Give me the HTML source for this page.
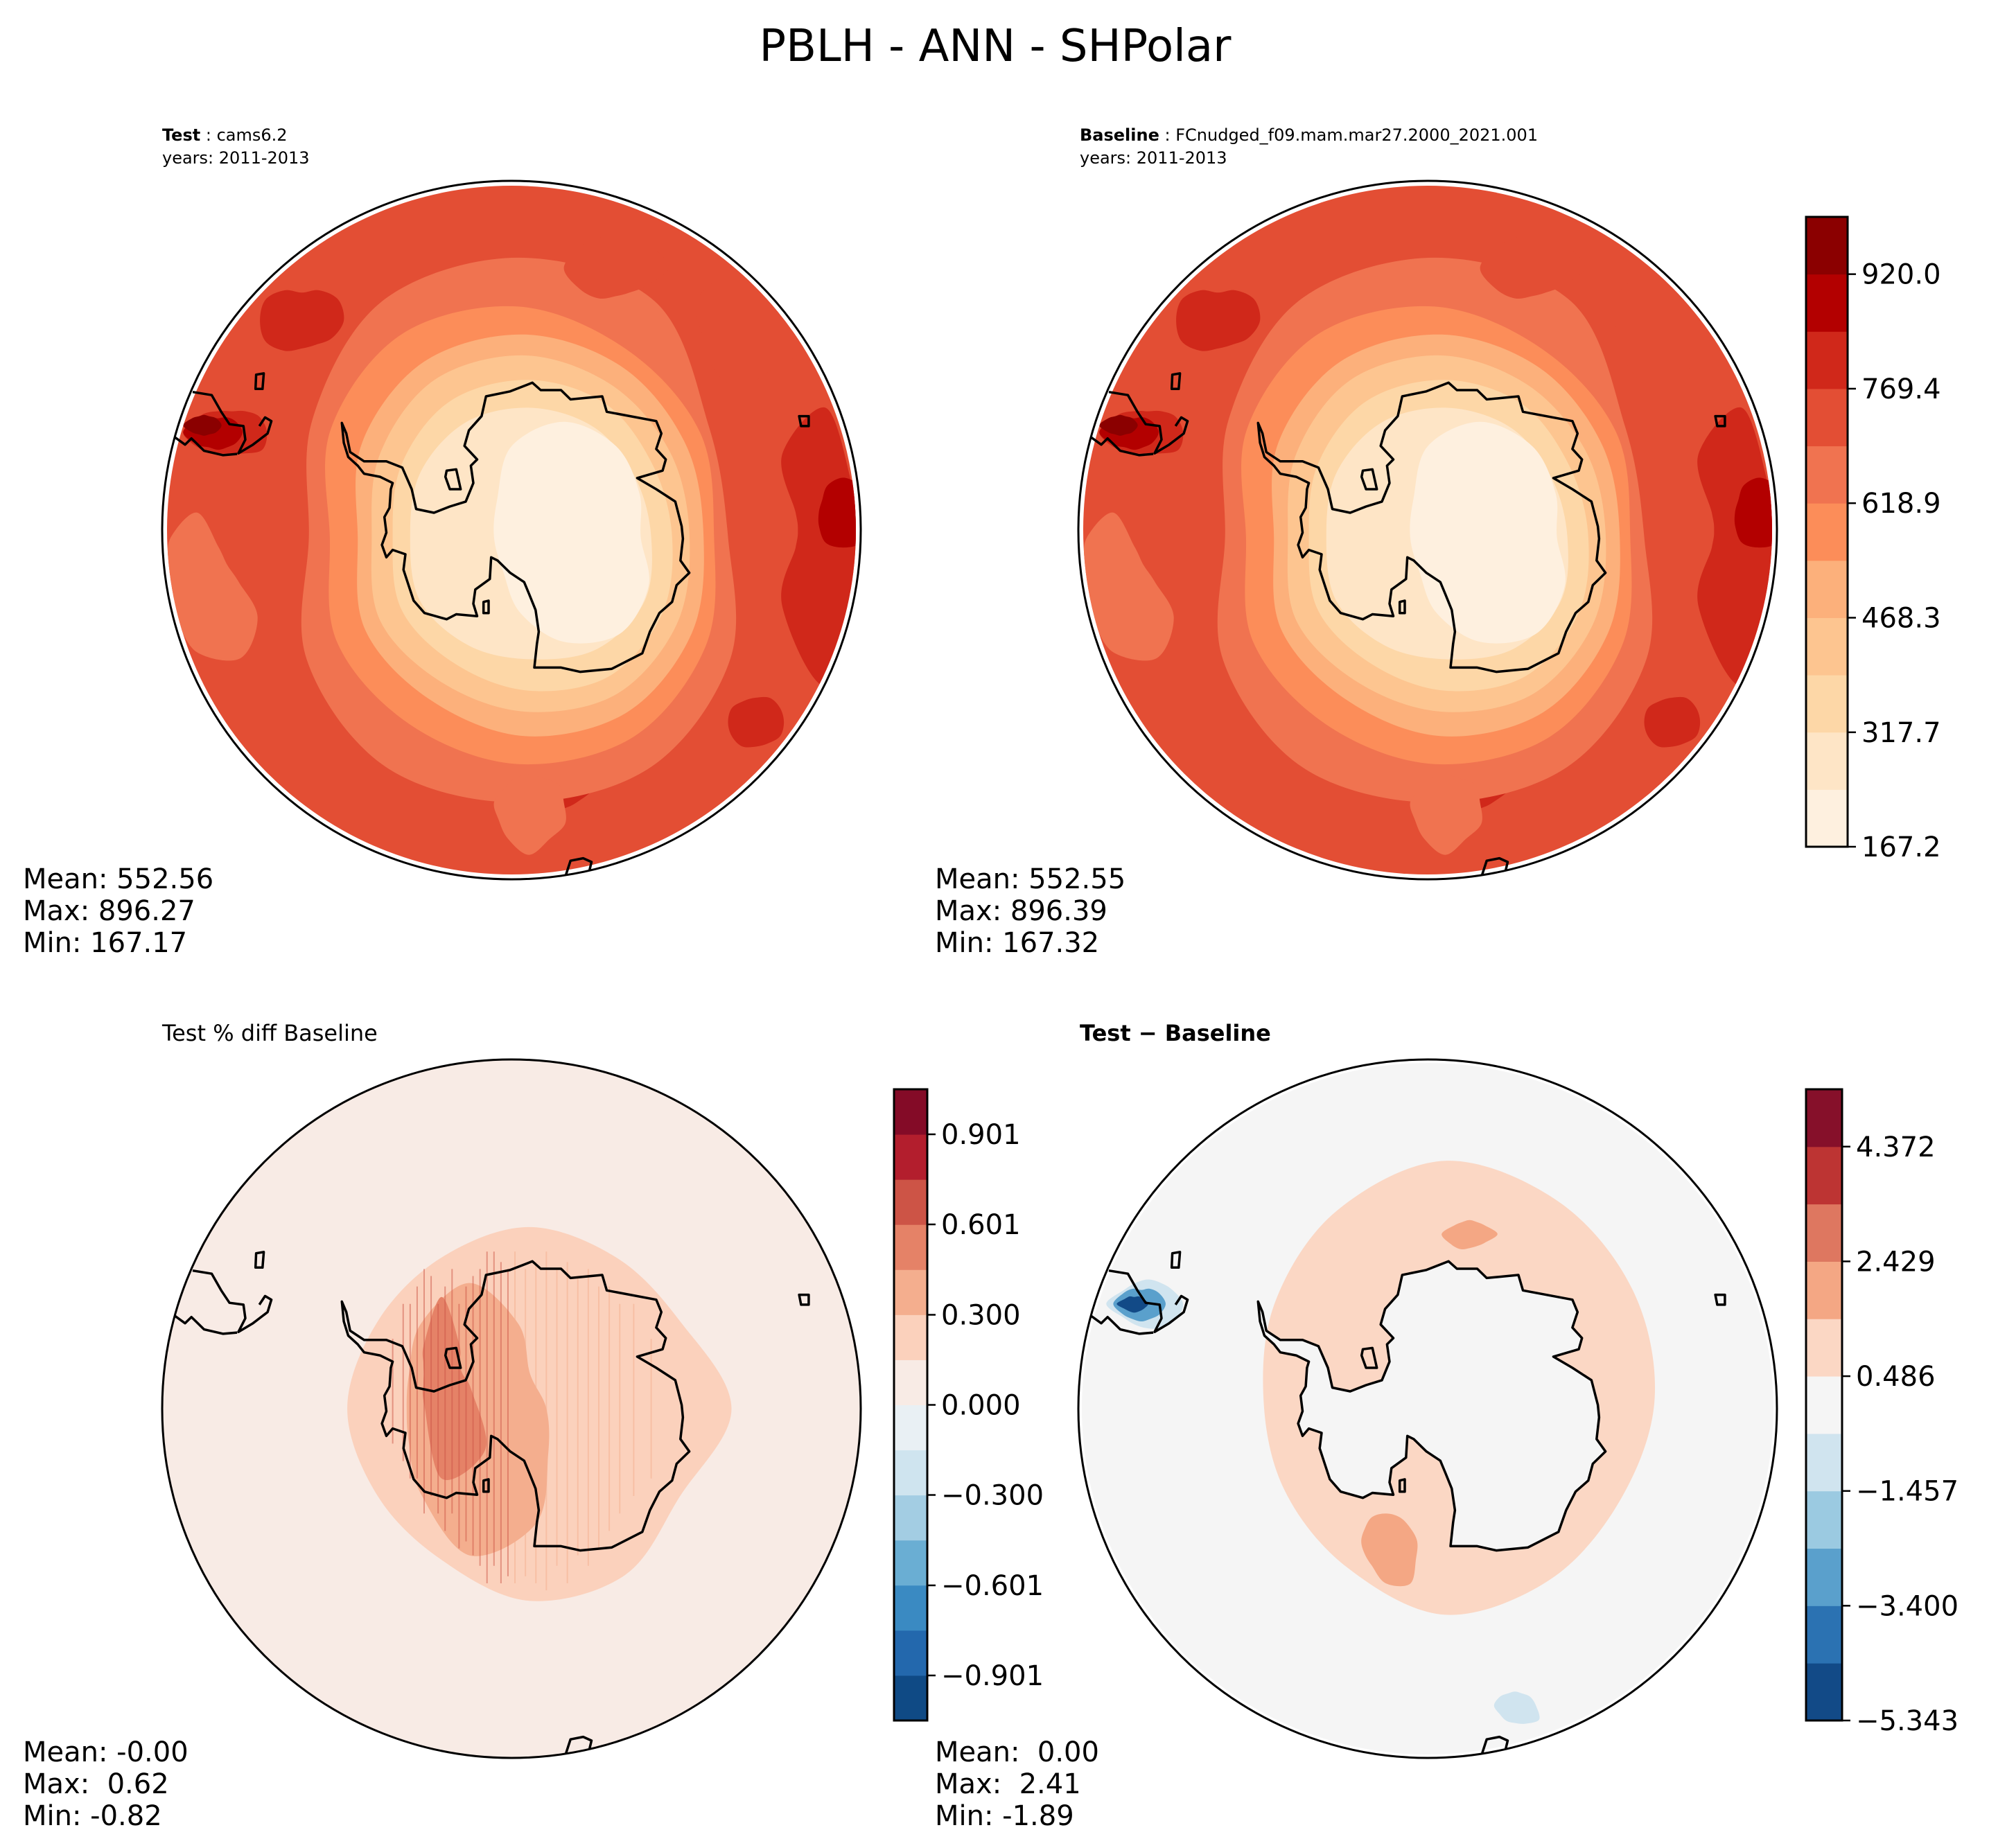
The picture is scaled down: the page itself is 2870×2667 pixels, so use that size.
<!DOCTYPE html>
<html><head><meta charset="utf-8"><style>
html,body{margin:0;padding:0;background:#fff;}
svg{display:block;font-family:"DejaVu Sans","Liberation Sans",sans-serif;}
text{white-space:pre;}
</style></head><body>
<svg id="fig" width="2870" height="2667" viewBox="0 0 2870 2667" xmlns="http://www.w3.org/2000/svg">
<text x="1436" y="88" font-size="64" text-anchor="middle">PBLH - ANN - SHPolar</text>
<g id="tl"></g>
<g id="tr"></g>
<g id="bl"></g>
<g id="br"></g>
<text x="234" y="203" font-size="24"><tspan font-weight="bold">Test</tspan> : cams6.2</text>
<text x="234" y="236" font-size="24">years: 2011-2013</text>
<text x="1558" y="203" font-size="24"><tspan font-weight="bold">Baseline</tspan> : FCnudged_f09.mam.mar27.2000_2021.001</text>
<text x="1558" y="236" font-size="24">years: 2011-2013</text>
<text x="234" y="1502" font-size="32">Test % diff Baseline</text>
<text x="1558" y="1502" font-size="32" font-weight="bold">Test − Baseline</text>
<g font-size="40"><text x="33" y="1282">Mean: 552.56</text><text x="33" y="1328">Max: 896.27</text><text x="33" y="1374">Min: 167.17</text></g>
<g font-size="40"><text x="1349" y="1282">Mean: 552.55</text><text x="1349" y="1328">Max: 896.39</text><text x="1349" y="1374">Min: 167.32</text></g>
<g font-size="40"><text x="33" y="2542">Mean: -0.00</text><text x="33" y="2588">Max:  0.62</text><text x="33" y="2634">Min: -0.82</text></g>
<g font-size="40"><text x="1349" y="2542">Mean:  0.00</text><text x="1349" y="2588">Max:  2.41</text><text x="1349" y="2634">Min: -1.89</text></g>
</svg>
<script>
const NS="http://www.w3.org/2000/svg";
const pblhLevels=[167.2,242.5,317.7,393.0,468.3,543.6,618.9,694.1,769.4,844.7,920.0,995.3];
const pblhTicks=["167.2","317.7","468.3","618.9","769.4","920.0"];
const pblhColors=["#fef0df","#fee5c6","#fdd7a7","#fdc590","#fcb07b","#fc8d59","#f07350","#e34e34","#d0281a","#b30000","#8b0000"];
const pctLevels=[-1.051,-0.901,-0.751,-0.601,-0.450,-0.300,-0.150,0.000,0.150,0.300,0.450,0.601,0.751,0.901,1.051];
const pctTicks=["−0.901","−0.601","−0.300","0.000","0.300","0.601","0.901"];
const pctColors=["#0f4a85","#2368ad","#3a8ac2","#6aaed3","#a3cde3","#cfe4ef","#e9f0f4","#f8ebe5","#fbd1bc","#f4ae8e","#e58267","#cd5446","#b31e2d","#840b27"];
const diffLevels=[-5.343,-4.371,-3.400,-2.428,-1.457,-0.486,0.486,1.457,2.429,3.400,4.372,5.343];
const diffTicks=["−5.343","−3.400","−1.457","0.486","2.429","4.372"];
const diffColors=["#124a87","#2b72b2","#5aa0cc","#9bcae1","#d0e4ef","#f5f5f5","#fbd7c4","#f4a784","#de7760","#bd3433","#86102a"];

function el(tag,attrs,parent){const e=document.createElementNS(NS,tag);for(const k in attrs)e.setAttribute(k,attrs[k]);if(parent)parent.appendChild(e);return e;}
const coastPx=[[535,683],[542,700],[548,730],[570,745],[605,745],[630,755],[645,790],[652,822],[680,828],[705,818],[730,810],[742,780],[738,752],[748,742],[728,720],[735,695],[755,672],[762,640],[800,632],[835,618],[848,630],[880,630],[895,645],[945,640],[952,665],[1030,680],[1038,700],[1030,725],[1045,742],[1040,760],[1000,772],[1030,790],[1060,810],[1070,850],[1072,870],[1068,905],[1082,925],[1062,945],[1055,972],[1035,990],[1020,1020],[1008,1055],[960,1080],[910,1085],[880,1078],[838,1078],[842,1040],[845,1020],[840,985],[830,960],[822,940],[800,925],[780,905],[770,900],[768,935],[745,952],[742,975],[748,995],[715,992],[700,1000],[665,990],[648,970],[640,945],[632,920],[635,895],[615,888],[605,900],[598,880],[605,860],[602,835],[610,820],[612,790],[615,780],[595,770],[570,765],[560,752],[545,738],[538,715],[535,683]];
const sam1=[[300,633],[330,638],[345,665],[358,685],[380,688],[383,710],[372,732],[395,718],[418,700],[424,680],[414,674],[405,688]];
const sam2=[[272,706],[288,718],[298,708],[318,728],[348,735],[370,733]];
const isl1=[[400,605],[412,603],[410,628],[399,628],[400,605]];
const isl2=[[1255,672],[1270,672],[1270,688],[1258,688],[1255,672]];
const isl3=[[700,760],[715,758],[722,790],[705,790],[698,770],[700,760]];
const isl4=[[758,972],[766,970],[766,990],[758,990],[758,972]];
const botc=[[888,1412],[895,1390],[915,1386],[928,1392],[925,1405]];
function N(p){return [(p[0]-802)/550,(p[1]-856)/564];}
function smoothBlob(cx,cy,R,cu,cv,radii){
  const n=radii.length,pts=[];
  for(let i=0;i<n;i++){const a=i*2*Math.PI/n;pts.push([cx+R*(cu+radii[i]*Math.cos(a)),cy+R*(cv+radii[i]*Math.sin(a))]);}
  let d="M"+pts[0][0].toFixed(1)+","+pts[0][1].toFixed(1);
  for(let i=0;i<n;i++){const p0=pts[(i-1+n)%n],p1=pts[i],p2=pts[(i+1)%n],p3=pts[(i+2)%n];
    const c1=[p1[0]+(p2[0]-p0[0])/6,p1[1]+(p2[1]-p0[1])/6],c2=[p2[0]-(p3[0]-p1[0])/6,p2[1]-(p3[1]-p1[1])/6];
    d+=" C"+c1.map(v=>v.toFixed(1))+" "+c2.map(v=>v.toFixed(1))+" "+p2[0].toFixed(1)+","+p2[1].toFixed(1);}
  return d+"Z";
}
function polyD(cx,cy,R,arr,close){return arr.map((p,i)=>{const q=N(p);return (i?"L":"M")+(cx+R*q[0]).toFixed(1)+","+(cy+R*q[1]).toFixed(1);}).join(" ")+(close?"Z":"");}
let clipId=0;
function mapBase(g,cx,cy,R,bg,inset){
  const id="c"+(clipId++);
  const cp=el("clipPath",{id:id},g);el("circle",{cx:cx,cy:cy,r:R-inset},cp);
  const inner=el("g",{"clip-path":"url(#"+id+")"},g);
  
  
  el("circle",{cx:cx,cy:cy,r:R,fill:bg},inner);
  return inner;
}
function coast(g,cx,cy,R){
  const c=el("g",{fill:"none",stroke:"#000","stroke-width":3.5,"stroke-linejoin":"round"},g);
  
  
  el("path",{d:polyD(cx,cy,R,coastPx,true)},c);
  [sam1,sam2,botc].forEach(a=>el("path",{d:polyD(cx,cy,R,a,false)},c));
  [isl1,isl2,isl3,isl4].forEach(a=>el("path",{d:polyD(cx,cy,R,a,true)},c));
  const o=el("circle",{cx:cx,cy:cy,r:R,fill:"none",stroke:"#000","stroke-width":3},g);
  
  
}
function pblhMap(g,cx,cy,R){
  const m=mapBase(g,cx,cy,R,pblhColors[7],7);
  const B=(cu,cv,rad,col)=>el("path",{d:smoothBlob(cx,cy,R,cu,cv,rad),fill:col},m);
  B(-0.9,0.15,[0.12,0.2,0.25,0.2,0.12,0.1,0.1,0.1,0.15,0.2,0.12,0.1],pblhColors[6]);
  B(-0.6,-0.6,[0.12,0.1,0.08,0.08,0.1,0.12,0.12,0.12,0.1,0.08,0.1,0.12],pblhColors[8]);
  B(0.9,0.0,[0.1,0.15,0.3,0.45,0.25,0.1,0.08,0.1,0.25,0.35,0.15,0.1],pblhColors[8]);
  B(0.7,0.55,[0.08,0.08,0.07,0.07,0.08,0.08,0.08,0.08,0.07,0.07,0.08,0.08],pblhColors[8]);
  B(0.1,0.73,[0.14,0.1,0.08,0.07,0.08,0.1,0.14,0.1,0.07,0.07,0.07,0.1],pblhColors[8]);
  B(0.02,0.02,[0.6,0.7,0.76,0.76,0.76,0.7,0.6,0.68,0.78,0.8,0.78,0.63],pblhColors[6]);
  B(0.7,-0.55,[0.15,0.12,0.1,0.12,0.15,0.15,0.15,0.2,0.2,0.2,0.2,0.15],pblhColors[7]);
  B(0.3,-0.75,[0.15,0.1,0.08,0.08,0.1,0.12,0.15,0.12,0.1,0.1,0.1,0.12],pblhColors[7]);
  B(0.05,0.78,[0.1,0.12,0.12,0.15,0.12,0.1,0.1,0.08,0.08,0.08,0.08,0.1],pblhColors[6]);
  B(0.02,0.02,[0.56,0.62,0.66,0.65,0.62,0.6,0.54,0.62,0.67,0.66,0.62,0.6],pblhColors[5]);
  B(0.04,0.02,[0.51,0.55,0.58,0.57,0.54,0.53,0.48,0.54,0.58,0.58,0.56,0.53],pblhColors[4]);
  B(0.04,0.02,[0.47,0.5,0.52,0.5,0.48,0.48,0.44,0.48,0.52,0.52,0.5,0.48],pblhColors[3]);
  B(0.05,0.02,[0.41,0.44,0.46,0.44,0.42,0.42,0.39,0.42,0.45,0.45,0.44,0.41],pblhColors[2]);
  B(0.06,0.02,[0.34,0.37,0.37,0.35,0.36,0.37,0.35,0.37,0.38,0.37,0.36,0.34],pblhColors[1]);
  B(0.15,0.02,[0.22,0.28,0.32,0.3,0.25,0.2,0.2,0.22,0.3,0.33,0.3,0.25],pblhColors[0]);
  B(-0.8,-0.28,[0.1,0.1,0.07,0.06,0.07,0.1,0.14,0.1,0.07,0.06,0.07,0.09],pblhColors[8]);
  B(-0.84,-0.28,[0.07,0.06,0.05,0.05,0.05,0.07,0.1,0.07,0.05,0.04,0.05,0.06],pblhColors[9]);
  B(-0.88,-0.3,[0.05,0.04,0.03,0.03,0.03,0.04,0.06,0.04,0.03,0.03,0.03,0.04],pblhColors[10]);
  B(0.95,-0.05,[0.06,0.07,0.1,0.1,0.1,0.08,0.07,0.07,0.09,0.1,0.09,0.07],pblhColors[9]);
  coast(g,cx,cy,R);
}
// percent-diff streak positions (normalized u) and extents
const streakX=[-0.34,-0.31,-0.29,-0.27,-0.25,-0.23,-0.21,-0.19,-0.17,-0.15,-0.13,-0.11,-0.09,-0.07,-0.05,-0.03,-0.01,0.01,0.04,0.07,0.1,0.13,0.16,0.19,0.22,0.25,0.28,0.31,0.35,0.4];
const streakTop=[-0.2,-0.3,-0.3,-0.35,-0.4,-0.38,-0.3,-0.35,-0.4,-0.3,-0.35,-0.38,-0.4,-0.45,-0.45,-0.42,-0.4,-0.45,-0.4,-0.42,-0.45,-0.4,-0.42,-0.38,-0.4,-0.35,-0.35,-0.3,-0.3,-0.2];
const streakBot=[0.1,0.15,0.2,0.2,0.3,0.25,0.3,0.35,0.3,0.4,0.38,0.42,0.45,0.5,0.45,0.5,0.48,0.5,0.48,0.5,0.52,0.45,0.5,0.42,0.45,0.4,0.35,0.3,0.25,0.2];
function pctMap(g,cx,cy,R){
  const m=mapBase(g,cx,cy,R,pctColors[7],0);
  const B=(cu,cv,rad,col)=>el("path",{d:smoothBlob(cx,cy,R,cu,cv,rad),fill:col},m);
  B(0.05,0.0,[0.58,0.5,0.55,0.55,0.5,0.5,0.52,0.5,0.5,0.52,0.5,0.5],pctColors[8]);
  B(-0.02,0.0,[0.4,0.38,0.42,0.42,0.36,0.32,0.38,0.32,0.36,0.42,0.38,0.38],pctColors[8]);
  B(-0.12,0.0,[0.22,0.26,0.38,0.42,0.28,0.2,0.18,0.2,0.28,0.36,0.28,0.2],pctColors[9]);
  B(-0.2,-0.1,[0.06,0.1,0.25,0.3,0.1,0.06,0.05,0.06,0.1,0.22,0.1,0.06],pctColors[10]);
  streakX.forEach((u,i)=>{const s=el("line",{x1:cx+R*u,x2:cx+R*u,y1:cy+R*streakTop[i],y2:cy+R*streakBot[i],stroke:u<0?pctColors[11]:pctColors[9],"stroke-width":2,opacity:0.5},m);
    
    });
  coast(g,cx,cy,R);
}
function diffMap(g,cx,cy,R){
  const m=mapBase(g,cx,cy,R,diffColors[5],5);
  const B=(cu,cv,rad,col)=>el("path",{d:smoothBlob(cx,cy,R,cu,cv,rad),fill:col},m);
  B(0.05,-0.03,[0.6,0.58,0.6,0.62,0.56,0.53,0.52,0.56,0.62,0.68,0.65,0.62],diffColors[6]);
  B(-0.12,0.38,[0.09,0.1,0.14,0.12,0.08,0.07,0.07,0.07,0.08,0.08,0.08,0.08],diffColors[7]);
  B(0.12,-0.5,[0.08,0.05,0.04,0.04,0.05,0.06,0.08,0.05,0.04,0.04,0.04,0.05],diffColors[7]);
  el("path",{d:polyD(cx,cy,R,coastPx,true),fill:diffColors[5]},m);
  B(-0.8,-0.3,[0.1,0.09,0.08,0.07,0.07,0.08,0.12,0.08,0.07,0.07,0.07,0.08],diffColors[4]);
  B(-0.82,-0.3,[0.07,0.06,0.05,0.05,0.05,0.06,0.08,0.06,0.05,0.04,0.05,0.06],diffColors[2]);
  B(-0.84,-0.3,[0.04,0.03,0.025,0.025,0.025,0.03,0.05,0.03,0.025,0.02,0.025,0.03],diffColors[0]);
  B(0.25,0.85,[0.06,0.08,0.06,0.05,0.05,0.05,0.06,0.05,0.04,0.04,0.04,0.05],diffColors[4]);
  coast(g,cx,cy,R);
}
function colorbar(g,x,y,w,h,levels,colors,ticks,name){
  const n=colors.length,bh=h/n;
  const cb=el("g",{},g);
  
  
  colors.forEach((c,i)=>{const r=el("rect",{x:x,y:y+h-(i+1)*bh,width:w,height:bh+0.5,fill:c},cb);
    
    });
  el("rect",{x:x,y:y,width:w,height:h,fill:"none",stroke:"#000","stroke-width":3},cb);
  const lo=levels[0],hi=levels[levels.length-1];
  ticks.forEach(t=>{const v=parseFloat(t.replace("−","-"));const ty=y+h-(v-lo)/(hi-lo)*h;
    el("line",{x1:x+w,x2:x+w+12,y1:ty,y2:ty,stroke:"#000","stroke-width":2.5},cb);
    const tx=el("text",{x:x+w+20,y:ty+14,"font-size":40},cb);tx.textContent=t;
    
    });
}
const R=504;
pblhMap(document.getElementById("tl"),738,765,R);
pblhMap(document.getElementById("tr"),2060,765,R);
pctMap(document.getElementById("bl"),738,2033,R);
diffMap(document.getElementById("br"),2060,2033,R);
colorbar(document.getElementById("tr"),2606,313,60,909,pblhLevels,pblhColors,pblhTicks,"pblh-colorbar");
colorbar(document.getElementById("bl"),1290,1572,48,911,pctLevels,pctColors,pctTicks,"pct-diff-colorbar");
colorbar(document.getElementById("br"),2606,1572,52,911,diffLevels,diffColors,diffTicks,"diff-colorbar");
</script>
</body></html>
